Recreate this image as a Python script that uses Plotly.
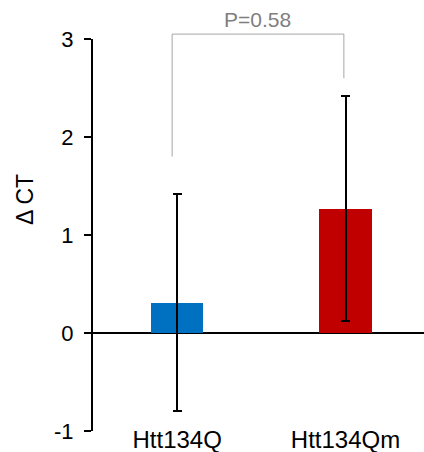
import plotly.graph_objects as go

categories = ["Htt134Q", "Htt134Qm"]
means = [0.31, 1.27]
errors = [1.11, 1.15]
bar_colors = ["#0070C0", "#C00000"]
y_ticks = [-1, 0, 1, 2, 3]
y_range = [-1, 3]
y_title = "Δ CT"
p_label = "P=0.58"
# bracket: x positions (category index offsets) and y values (data units)
bracket_x = [-0.03, 0.99]
bracket_y_top = 3.05
bracket_y_left = 1.80
bracket_y_right = 2.60

FONT = "Liberation Sans, Arial, sans-serif"

fig = go.Figure()
fig.add_trace(go.Bar(
    x=[0, 1], y=means,
    marker=dict(color=bar_colors, line=dict(width=0)),
    width=0.31,
    error_y=dict(type="data", array=errors, visible=True,
                 color="black", thickness=2, width=4.5),
    showlegend=False, hoverinfo="skip",
))

def to_paper(v):
    return (v - y_range[0]) / (y_range[1] - y_range[0])

gray = "#A6A6A6"
shape_pts = [
    (bracket_x[0], bracket_y_left, bracket_x[0], bracket_y_top),
    (bracket_x[0], bracket_y_top, bracket_x[1], bracket_y_top),
    (bracket_x[1], bracket_y_top, bracket_x[1], bracket_y_right),
]
for x0, y0, x1, y1 in shape_pts:
    fig.add_shape(type="line", xref="x", yref="paper",
                  x0=x0, x1=x1, y0=to_paper(y0), y1=to_paper(y1),
                  line=dict(color=gray, width=1))

fig.add_annotation(
    x=(bracket_x[0] + bracket_x[1]) / 2, xref="x",
    y=to_paper(bracket_y_top), yref="paper",
    yanchor="bottom", yshift=1, showarrow=False,
    text=p_label, font=dict(family=FONT, size=21, color="#7F7F7F"),
)

# y-axis title placed as a rotated annotation (sits above the axis middle)
fig.add_annotation(
    x=0, xref="paper", xshift=-68, xanchor="center",
    y=0.5, yref="paper", yshift=35, yanchor="middle",
    text=y_title, textangle=-90, showarrow=False,
    font=dict(family=FONT, size=23, color="black"),
)

fig.update_layout(
    width=424, height=452,
    margin=dict(l=93, r=0, t=39, b=21),
    paper_bgcolor="white", plot_bgcolor="white",
    font=dict(family=FONT, color="black"),
    bargap=0,
    xaxis=dict(
        tickmode="array", tickvals=[0, 1], ticktext=categories,
        range=[-0.5, 1.466], showline=False, showgrid=False, zeroline=False,
        ticks="", tickfont=dict(size=24, family=FONT, color="black"),
        ticklabelstandoff=-8,
        fixedrange=True,
    ),
    yaxis=dict(
        range=y_range, tickvals=y_ticks, ticktext=[str(v) for v in y_ticks],
        showline=True, linecolor="black", linewidth=2,
        ticks="outside", ticklen=7, tickwidth=2, tickcolor="black",
        showgrid=False, zeroline=True, zerolinecolor="black", zerolinewidth=2,
        tickfont=dict(size=22, family=FONT, color="black"),
        ticklabelstandoff=6,
        fixedrange=True,
    ),
)

fig.write_html("out.html", config={"displayModeBar": False},
               post_script="document.body.style.margin='0';document.body.style.overflow='hidden';")
